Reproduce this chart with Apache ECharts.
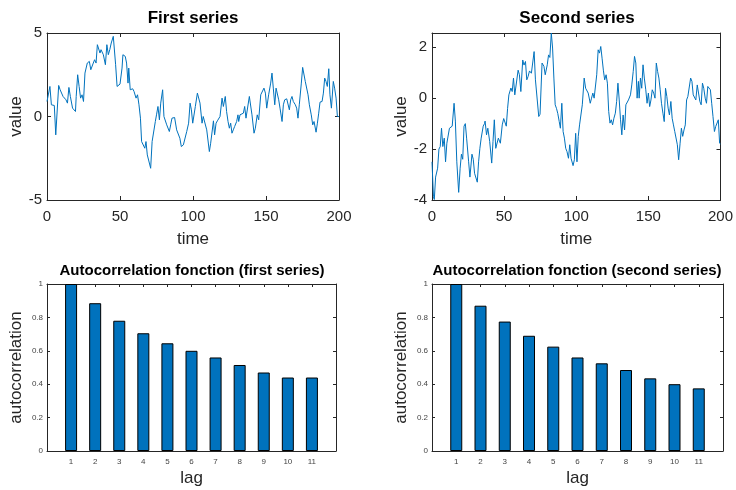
<!DOCTYPE html>
<html>
<head>
<meta charset="utf-8">
<script src="https://cdn.jsdelivr.net/npm/echarts@6/dist/echarts.min.js"></script>
<style>
  html, body { margin: 0; padding: 0; background: #fff; }
  #chart { width: 736px; height: 490px; }
</style>
</head>
<body>
<div id="chart"></div>
<script>
// first series (time, value)
var time1 = [0, 2, 3, 5, 6, 8, 9, 10, 11, 12, 13, 14, 15, 16, 17.5, 18.5, 19.5, 20, 21, 22, 23, 24, 25, 26, 27.6, 29, 30, 31.7, 32.6, 33.6, 34.5, 35.4, 36.3, 37, 38.6, 40, 41, 42, 43, 44, 45.4, 46, 47, 48, 49, 50, 51.4, 52, 53.6, 54.5, 55.5, 56, 57, 58.7, 59.6, 61, 62, 63, 64,
  64.8, 66, 67, 67.8, 68.7, 69.6, 71, 72, 72.8, 74.2, 75, 76, 77, 77.9, 79.2, 80.1, 81, 82, 82.9, 83.8, 84.7, 85.6, 86.5, 87.4, 88.8, 89.7, 91, 92, 93.4, 94.3, 95.7, 97, 98, 98.9, 99.8, 100.7, 101.6, 103, 103.9, 104.8, 106.2, 107, 108, 109.4, 110.3, 111.2, 112.1, 113, 114, 114.8, 115.8, 116.7, 117.6, 118.5, 119.9, 120.8, 122.1, 123, 124, 124.9, 125.8, 126.7, 127.6, 128.5, 129.9, 130.8, 131.3, 132.2,
  134.5, 135.4, 136.3, 137.2, 138.6, 139.5, 140.4, 141.8, 142.7, 144, 145, 146.4, 147.3, 148.6, 149.6, 150.5, 151.8, 153.2, 154.1, 155, 156, 156.9, 157.8, 158.7, 159.6, 161, 161.9, 162.8, 164.2, 165.1, 166, 166.9, 167.8, 168.7, 170.1, 171, 171.9, 172.8, 174.2, 175.1, 176, 176.9, 177.9, 178.8, 179.7, 181, 182, 182.9, 184.3, 185.2, 186.1, 187, 188.4, 189.3, 190.2, 191.1, 192, 193, 193.8, 194.8, 196.1, 197, 198, 198.9, 200];
var value1 = [0.9, 1.8, 0.7, 0.66, -1.1, 1.86, 1.6, 1.54, 1.2, 1.3, 1.0, 0.8, 1.74, 1.2, 0.5, 0.4, 0.3, 1.2, 2.5, 1.8, 1.1, 1.3, 0.9, 2.6, 3.2, 3.3, 2.8, 3.2, 3.4, 3.2, 4.3, 4.3, 3.8, 4.0, 3.7, 3.1, 4.3, 3.7, 4.0, 4.4, 4.8, 4.7, 3.1, 1.8, 1.9, 1.94, 2.9, 3.7, 3.6, 3.2, 2.0, 2.9, 1.6, 1.66, 1.5, 1.1, 1.3, 0.7, -0.1,
  -1.5, -1.6, -1.9, -1.5, -2.3, -2.3, -3.1, -1.5, -1.4, -0.3, 0.1, 0.6, -0.2, 0.8, 1.6, 0, -0.1, -0.5, -0.4, -0.9, -0.5, -0.1, 0, -0.06, -0.8, -0.9, -1.3, -1.8, -1.7, -1.6, -0.9, -0.4, 0.8, 0.4, -0.4, -0.4, 0.6, 1.4, 1.3, 0.8, -0.4, 0, 0, -0.8, -0.9, -2.1, -1.6, -1.5, -0.26, -1.1, -0.4, -0.26, -0.2, 0, 1.1, 0.6, 1.2, 0.3, -0.3, -0.7, -0.4, -1.0, -0.8, -0.6, -0.3, 0.1, -0.3, 0.1,
  0.2, 0.6, -0.1, 0, 1.2, 1.1, 0.1, -1.0, -0.7, 0.1, -0.2, 1.3, 1.3, 1.7, 1.4, 0.5, 1.3, 2.0, 2.6, 1.7, 0.7, 1.7, 1.7, 1.0, 0.5, -0.3, 0.7, 1.0, 1.06, 1.1, 0.4, 1.0, 1.2, 0.9, 0.7, 0.5, -0.1, 0.7, 2.0, 2.94, 2.94, 2.1, 2.0, 1.3, 0.7, 0.1, -0.5, -0.3, -0.94, -0.4, 0.2, 0.86, 0.9, 1.4, 2.3, 2.1, 1.8, 2.86, 1.3, 0.5, 2.1, 1.7, 1.1, 0, 0];

// second series (time, value)
var time2 = [0, 1, 1.6, 2.5, 3.9, 4.8, 5.7, 6.6, 7.5, 8.5, 9.4, 10.3, 11.2, 12.1, 13, 14, 15.3, 16.2, 17.2, 18.5, 19.5, 20.4, 21.3, 22.2, 23.1, 24, 25.4, 26.3, 27.7, 28.6, 29.5, 30.4, 31.4, 32.3, 33.2, 34.1, 35.5, 36.4, 36.8, 37.8, 38.7, 40, 41.4, 42.3, 43.2, 44.2, 45.1, 46, 47.4, 48.7, 49.7, 50.6, 51.5, 52.4, 53.3, 54.7, 55.6, 56.5, 57.4, 58.4, 59.7, 60.6, 61.6, 62.9, 63.8, 64.8, 65.7, 66.6, 67.6, 68.9, 69.8, 70.8, 71.7, 72.6, 74, 74.9, 76.3, 77.6, 78.5, 79.9, 80.8, 81.7, 82.7, 83.6, 84.5, 85.4, 86.3, 87.2, 88.2, 89, 90, 90.9, 91.8, 92.7, 93.6, 94.6, 95.5, 96.4, 97.8, 98.7, 99.6, 100.5, 101.4, 102.3, 103.3, 104.2, 105.5, 106.5, 107.4, 108.3, 109.7, 110.6, 111.5, 112.4, 113.3, 114.2, 115.2, 116.1, 117, 117.9, 118.8, 119.7, 120.7, 121.6, 122.5, 123.4, 124.3, 125.2, 126.1, 127.1, 128, 128.9, 129.8, 130.7, 131.6, 132.5, 133.5, 134.4, 135.3, 136.2, 137.6, 138.5, 139.5, 140.4, 141.3, 142.2, 143.1, 143.6, 144.5, 145.4, 146.3, 147.2, 148.2, 149.1, 150, 150.9, 151.8, 152.7, 153.7, 154.6, 155.5, 156.4, 157.3, 158.2, 159.1, 160.1, 161, 161.9, 162.8, 163.7, 164.6, 165.6, 166.5, 167.4, 168.3, 169.2, 170.1, 171, 172, 172.9, 173.8, 174.7, 175.6, 176.5, 177.4, 178.4, 179.3, 180.2, 181.1, 182, 182.9, 183.9, 184.8, 185.7, 186.6, 187.5, 188.4, 189.4, 190.3, 191.2, 192.1, 193, 193.9, 194.8, 195.8, 196.7, 197.6, 198.5, 199.4, 200];
var value2 = [-2.5, -3.87, -3.98, -3.1, -2.75, -2.0, -1.9, -1.18, -1.9, -1.57, -2.5, -1.77, -1.7, -1.18, -1.25, -1.1, -0.2, -0.9, -2.5, -3.7, -2.75, -2.2, -2.4, -1.1, -1.0, -1.57, -2.5, -3.1, -2.2, -2.4, -2.95, -3.0, -3.3, -2.5, -1.97, -1.57, -1.1, -1.0, -0.9, -1.44, -1.18, -1.7, -2.55, -1.7, -0.85, -1.97, -1.9, -1.57, -1.77, -1.05, -0.8, -0.85, -1.1, -0.4, 0.13, 0.4, 0.26, 0.79, 0.13, 0.2, 1.1, 0.92, 0.26, 1.5, 1.3, 1.44, 0.72, 0.85, 1.07, 0.98, 1.05, 1.83, 0.72, 0.72, -0.72, -0.63, 1.38, 1.25, 0.92, 1.31, 1.7, 1.6, 2.56, 1.97, 0.79, -0.26, -0.4, -0.6, -0.92, -1.18, -0.2, -1.31, -1.57, -1.97, -2.1, -2.36, -1.83, -2.36, -2.65, -2.42, -1.38, -2.5, -1.5, -1.05, -1.05, -0.26, 0.79, 0.39, 0.37, 0.2, -0.2, 0, 0.2, 0, 0.07, 0.92, 1.9, 1.77, 2.03, 1.57, 1.1, 0.72, 0.92, 0.59, -0.52, -0.98, -0.85, -1.05, -0.79, -0.59, -0.13, 0.59, -0.07, -0.85, -1.44, -0.66, -1.25, -0.26, -0.2, -0.07, 0.13, 0.52, 1.05, 1.64, 1.38, 0, 0.66, 0, 0.79, 0.39, 1.31, 0.79, 0.33, -0.2, 0.2, -0.33, -0.07, 0.33, 0.2, 0, 1.38, 1.05, 0.79, 0.33, -0.2, -0.59, -0.92, 0.39, 0.07, -0.39, -0.66, -0.13, -0.79, -1.05, -1.31, -1.38, -1.83, -2.42, -1.77, -1.18, -1.5, -1.25, -1.05, -0.07, 0.07, 0.07, 0.79, 0.66, 0.13, 0.07, -0.07, 0.52, 0.46, -0.13, -0.26, 0.59, 0.39, 0, -0.2, 0.46, 0.5, 0.33, -0.2, -0.72, -1.31, -1.11, -1.18, -0.85, -1.77, -1.8];

// autocorrelation
var lags = [1, 2, 3, 4, 5, 6, 7, 8, 9, 10, 11];
var acf1 = [1, 0.885, 0.78, 0.705, 0.645, 0.60, 0.56, 0.515, 0.47, 0.44, 0.44];
var acf2 = [1, 0.87, 0.775, 0.69, 0.625, 0.56, 0.525, 0.485, 0.435, 0.40, 0.375];

var timeTicks = [0, 50, 100, 150, 200];
var y1Ticks = [-5, 0, 5];
var y2Ticks = [-4, -2, 0, 2];
var acfTicks = [0, 0.2, 0.4, 0.6, 0.8, 1];

var blue = '#0072BD';
var dark = '#262626';
var font = '"Liberation Sans", Arial, sans-serif';

function pairs(xs, ys) {
  return xs.map(function (x, i) { return [x, ys[i]]; });
}

// axis with inside ticks, MATLAB-ish
function axis(opt, grid, ticks, big, name, gap, isMirror) {
  var a = {
    type: 'value',
    gridIndex: grid,
    min: opt.min,
    max: opt.max,
    axisLine: { show: true, onZero: false, lineStyle: { color: dark, width: 1 } },
    axisTick: { show: true, inside: true, length: big ? 4 : 3, customValues: ticks, lineStyle: { color: dark } },
    axisLabel: {
      show: !isMirror,
      customValues: ticks,
      color: big ? dark : '#444',
      fontFamily: font,
      fontSize: big ? 15 : 8,
      margin: opt.margin
    },
    splitLine: { show: false }
  };
  if (opt.position) a.position = opt.position;
  if (name && !isMirror) {
    a.name = name;
    a.nameLocation = 'middle';
    a.nameGap = gap;
    a.nameTextStyle = { fontFamily: font, fontSize: 17, color: dark };
  }
  return a;
}

var grids = [
  { left: 47, top: 33, width: 292, height: 167 },
  { left: 432, top: 33, width: 291, height: 167 },
  { left: 47, top: 284, width: 289, height: 167 },
  { left: 432, top: 284, width: 291, height: 167 }
];

var xAxes = [], yAxes = [];
// top panels
[0, 1].forEach(function (g) {
  xAxes.push(axis({ min: 0, max: 200, margin: 9 }, g, timeTicks, true, 'time', 31, false));
  xAxes.push(axis({ min: 0, max: 200, position: 'top' }, g, timeTicks, true, null, 0, true));
});
yAxes.push(axis({ min: -5, max: 5, margin: 5 }, 0, y1Ticks, true, 'value', 22, false));
yAxes.push(axis({ min: -5, max: 5, position: 'right' }, 0, y1Ticks, true, null, 0, true));
yAxes.push(axis({ min: -4, max: 2.56, margin: 5 }, 1, y2Ticks, true, 'value', 22, false));
yAxes.push(axis({ min: -4, max: 2.56, position: 'right' }, 1, y2Ticks, true, null, 0, true));
// bottom panels
[2, 3].forEach(function (g) {
  xAxes.push(axis({ min: 0, max: 12, margin: 7 }, g, lags, false, 'lag', 19, false));
  xAxes.push(axis({ min: 0, max: 12, position: 'top' }, g, lags, false, null, 0, true));
  yAxes.push(axis({ min: 0, max: 1, margin: 4 }, g, acfTicks, false, 'autocorrelation', 22, false));
  yAxes.push(axis({ min: 0, max: 1, position: 'right' }, g, acfTicks, false, null, 0, true));
});

function title(text, x, y, size) {
  return {
    type: 'text', x: x, y: y,
    style: {
      text: text, fill: '#000', font: 'bold ' + size + 'px ' + font,
      textAlign: 'center', textVerticalAlign: 'middle'
    }
  };
}

var option = {
  animation: false,
  backgroundColor: '#fff',
  grid: grids,
  xAxis: xAxes,
  yAxis: yAxes,
  graphic: [
    title('First series', 193, 18, 17),
    title('Second series', 577, 18, 17),
    title('Autocorrelation fonction (first series)', 192, 271, 15),
    title('Autocorrelation fonction (second series)', 577, 271, 15)
  ],
  series: [
    {
      type: 'line', xAxisIndex: 0, yAxisIndex: 0,
      data: pairs(time1, value1), showSymbol: false,
      lineStyle: { color: blue, width: 1 }
    },
    {
      type: 'line', xAxisIndex: 2, yAxisIndex: 2,
      data: pairs(time2, value2), showSymbol: false,
      lineStyle: { color: blue, width: 1 }
    },
    {
      type: 'bar', xAxisIndex: 4, yAxisIndex: 4,
      data: pairs(lags, acf1), barWidth: 12,
      itemStyle: { color: blue, borderColor: '#000', borderWidth: 1 }
    },
    {
      type: 'bar', xAxisIndex: 6, yAxisIndex: 6,
      data: pairs(lags, acf2), barWidth: 12,
      itemStyle: { color: blue, borderColor: '#000', borderWidth: 1 }
    }
  ]
};

var myChart = echarts.init(document.getElementById('chart'));
myChart.setOption(option);
</script>
</body>
</html>
